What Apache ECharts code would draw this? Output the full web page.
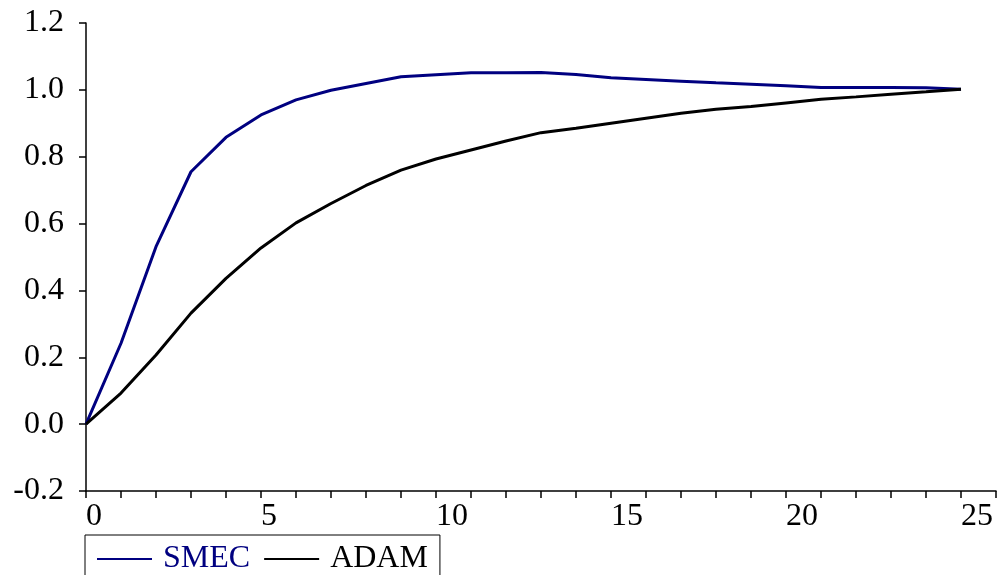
<!DOCTYPE html>
<html>
    <head>
        <meta charset="utf-8"/>
        <title>SMEC ADAM</title>
        <script src="https://cdn.jsdelivr.net/npm/echarts@6/dist/echarts.min.js"></script>
        <style>
            html, body { margin: 0; padding: 0; background: #fff; }
        </style>
    </head>
    <body>
        <div id="main" style="width: 999px;height:575px;"></div>
        <script type="text/javascript">
            // quarters after the shock
            var periods = [0, 1, 2, 3, 4, 5, 6, 7, 8, 9, 10, 11, 12, 13, 14, 15, 16, 17, 18, 19, 20, 21, 22, 23, 24, 25];
            var smec = [0.000, 0.242, 0.531, 0.755, 0.858, 0.925, 0.970, 0.999, 1.019, 1.039, 1.045, 1.051, 1.051, 1.052, 1.046,
                        1.036, 1.031, 1.026, 1.021, 1.017, 1.012, 1.007, 1.007, 1.007, 1.006, 1.002];
            var adam = [0.000, 0.093, 0.207, 0.332, 0.436, 0.527, 0.602, 0.660, 0.714, 0.760, 0.793, 0.820, 0.847, 0.872, 0.885,
                        0.900, 0.915, 0.930, 0.942, 0.950, 0.961, 0.972, 0.979, 0.987, 0.994, 1.002];
            var seriesNames = ['SMEC', 'ADAM'];
            var seriesColors = ['#000080', '#000000'];

            function pairs(ys) {
                return periods.map(function (x, i) { return [x, ys[i]]; });
            }

            var font = 'Liberation Serif';
            var chartDom = document.getElementById('main');
            var myChart = echarts.init(chartDom);
            var option = {
                animation: false,
                backgroundColor: '#ffffff',
                grid: { left: 86, right: 1, top: 23, bottom: 84 },
                legend: {
                    left: 85,
                    top: 535,
                    orient: 'horizontal',
                    borderColor: '#000',
                    borderWidth: 1,
                    padding: [8, 12, 20, 12],
                    itemGap: 14,
                    itemWidth: 55,
                    itemHeight: 2,
                    icon: 'rect',
                    textStyle: { fontFamily: font, fontSize: 32, padding: [0, 0, 0, 6] },
                    data: [
                        { name: seriesNames[0], textStyle: { color: seriesColors[0] } },
                        { name: seriesNames[1], textStyle: { color: seriesColors[1] } }
                    ]
                },
                xAxis: {
                    type: 'value',
                    min: 0,
                    max: 26,
                    interval: 1,
                    axisLine: { onZero: false, lineStyle: { color: '#000', width: 1.5 } },
                    axisTick: { length: 7, lineStyle: { color: '#000', width: 1.5 } },
                    splitLine: { show: false },
                    axisLabel: {
                        fontFamily: font,
                        fontSize: 32,
                        color: '#000',
                        align: 'left',
                        margin: 10,
                        showMaxLabel: true,
                        formatter: function (v) {
                            return (v % 5 === 0 && v <= 25) ? String(v) : '';
                        }
                    }
                },
                yAxis: {
                    type: 'value',
                    min: -0.2,
                    max: 1.2,
                    interval: 0.2,
                    axisLine: { show: true, lineStyle: { color: '#000', width: 1.5 } },
                    axisTick: { show: true, length: 7, lineStyle: { color: '#000', width: 1.5 } },
                    splitLine: { show: false },
                    axisLabel: {
                        fontFamily: font,
                        fontSize: 32,
                        color: '#000',
                        margin: 22,
                        formatter: function (v) { return v.toFixed(1); }
                    }
                },
                series: [{
                    name: seriesNames[0],
                    type: 'line',
                    data: pairs(smec),
                    showSymbol: false,
                    color: seriesColors[0],
                    lineStyle: { width: 3, color: seriesColors[0] }
                }, {
                    name: seriesNames[1],
                    type: 'line',
                    data: pairs(adam),
                    showSymbol: false,
                    color: seriesColors[1],
                    lineStyle: { width: 3, color: seriesColors[1] }
                }]
            };
            myChart.setOption(option);
        </script>
    </body>
</html>
